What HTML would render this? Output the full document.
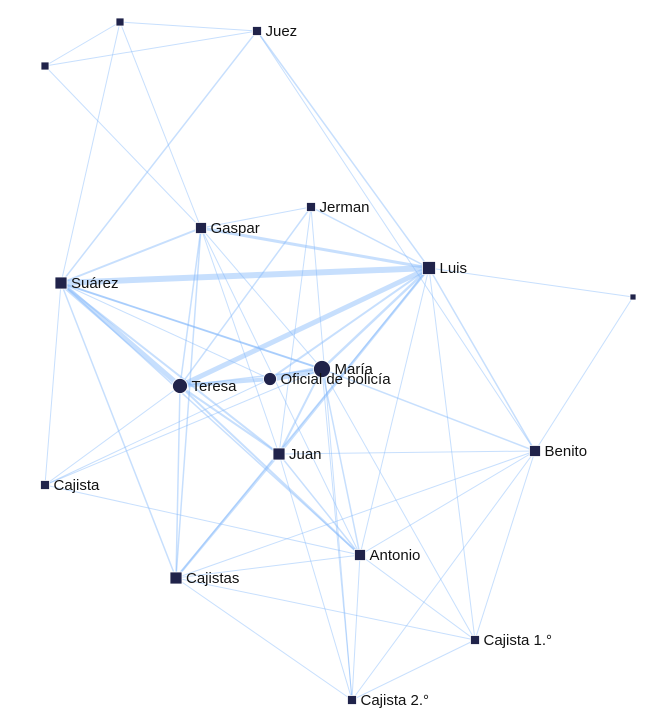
<!DOCTYPE html>
<html><head><meta charset="utf-8"><style>
html,body{margin:0;padding:0;background:#fff;width:663px;height:726px;overflow:hidden}
svg text{font-family:"Liberation Sans",sans-serif;font-size:15px;fill:#111}
</style></head><body>
<svg id="net" width="663" height="726" xmlns="http://www.w3.org/2000/svg">
<g id="edges"></g>
<g id="nodes"></g>
</svg>
<script>
const nodeNames=["n1","Juez","n2","Jerman","Gaspar","Suárez","Luis","n3","María","Oficial de policía","Teresa","Juan","Benito","Cajista","Antonio","Cajistas","Cajista 1.°","Cajista 2.°"];
const nodeX=[120,257,45,311,201,61,429,633,322,270,180,279,535,45,360,176,475,352];
const nodeY=[22,31,66,207,228,283,268,297,369,379,386,454,451,485,555,578,640,700];
const nodeShape=["s","s","s","s","s","s","s","s","c","c","c","s","s","s","s","s","s","s"];
const nodeSize=[8,9,8,9,11,12,13,6,17,13,15,12,11,9,11,12,9,9];
const nodeLabeled=[0,1,0,1,1,1,1,0,1,1,1,1,1,1,1,1,1,1];
const edgeSrc=[0,0,2,0,0,2,1,1,1,3,3,3,3,3,4,4,4,4,4,4,4,5,5,5,5,5,5,5,5,6,6,6,6,6,6,6,6,6,7,8,9,8,8,8,8,8,8,8,8,10,10,10,10,11,11,11,11,12,12,12,12,13,13,14,14,14,15,15,16];
const edgeDst=[1,2,1,5,4,4,5,6,12,4,6,10,11,17,5,6,10,15,11,8,14,6,10,11,8,14,15,13,9,10,8,11,9,7,12,16,14,15,12,9,10,10,11,12,14,17,16,13,5,11,14,15,13,12,15,14,17,14,15,16,17,14,9,15,16,17,16,17,17];
const edgeW=[1,1,1,1,1,1,1.5,1.5,1,1,1.5,1.5,1,1,2,3,1.5,1.5,1,1,1,6,5,2,2,1.5,1.5,1,1,5,2.5,2.5,2,1,1.5,1,1,1.5,1,6,4,1.5,2,1.5,1.5,1,1,1,1.5,2,2,1.5,1,1,2.5,1.5,1,1,1,1,1,1,1,1,1,1,1,1,1];
const NS="http://www.w3.org/2000/svg";
const eg=document.getElementById('edges'),ng=document.getElementById('nodes');
for(let i=0;i<edgeSrc.length;i++){
  const l=document.createElementNS(NS,'line');
  l.setAttribute('x1',nodeX[edgeSrc[i]]);l.setAttribute('y1',nodeY[edgeSrc[i]]);
  l.setAttribute('x2',nodeX[edgeDst[i]]);l.setAttribute('y2',nodeY[edgeDst[i]]);
  l.setAttribute('stroke','rgb(130,185,250)');l.setAttribute('stroke-opacity','0.45');
  l.setAttribute('stroke-width',edgeW[i]);
  
  
  eg.appendChild(l);
}
for(let i=0;i<nodeNames.length;i++){
  const s=nodeSize[i];let el;
  if(nodeShape[i]==='c'){el=document.createElementNS(NS,'circle');el.setAttribute('cx',nodeX[i]);el.setAttribute('cy',nodeY[i]);el.setAttribute('r',s/2);}
  else{el=document.createElementNS(NS,'rect');el.setAttribute('x',nodeX[i]-s/2);el.setAttribute('y',nodeY[i]-s/2);el.setAttribute('width',s);el.setAttribute('height',s);}
  el.setAttribute('fill','#20234a');el.setAttribute('stroke','#fff');el.setAttribute('stroke-width','0.8');
  
  
  ng.appendChild(el);
  if(nodeLabeled[i]){
    const t=document.createElementNS(NS,'text');
    t.setAttribute('x',nodeX[i]+s/2+4);t.setAttribute('y',nodeY[i]+5);
    t.textContent=nodeNames[i];
    
    
    ng.appendChild(t);
  }
}
</script>
</body></html>
